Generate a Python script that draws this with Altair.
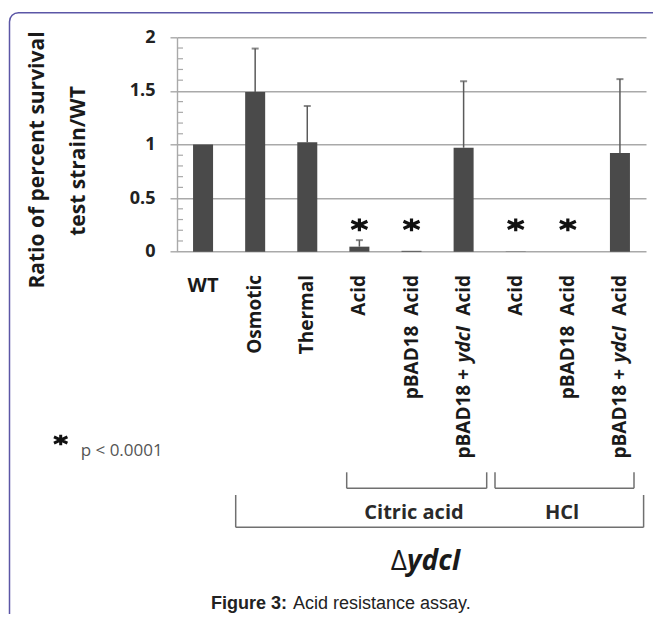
import altair as alt
import pandas as pd

# ---------------- data ----------------
categories = [
    "WT", "Osmotic", "Thermal",
    "Citric Acid", "Citric pBAD18 Acid", "Citric pBAD18 + ydcI Acid",
    "HCl Acid", "HCl pBAD18 Acid", "HCl pBAD18 + ydcI Acid",
]
ratios = [1.0, 1.49, 1.02, 0.047, 0.008, 0.97, 0.002, 0.0, 0.92]
error_tops = [None, 1.895, 1.36, 0.108, None, 1.59, None, None, 1.61]
significant = [False, False, False, True, True, False, True, True, False]
label_kind = ["horizontal", "rotated", "rotated", "rotated", "rotated",
              "composite", "rotated", "rotated", "composite"]
labels = ["WT", "Osmotic", "Thermal", "Acid", "pBAD18\u00a0\u00a0Acid", "",
          "Acid", "pBAD18\u00a0\u00a0Acid", ""]
star_level = [0.25] * 9
y_ticks = [0, 0.5, 1, 1.5, 2]
minor_ticks = [0.1, 0.2, 0.3, 0.4, 0.6, 0.7, 0.8, 0.9,
               1.1, 1.2, 1.3, 1.4, 1.6, 1.7, 1.8, 1.9]

# ---------------- layout (page pixels) ----------------
PLOT_LEFT, PLOT_TOP = 177, 37.3
PLOT_W, PLOT_H = 469, 214.4
TOTAL_W, TOTAL_H = 645, 606
PAGE_MARGIN = 8


def px(x):
    return x - PLOT_LEFT


def py(y):
    return y - PLOT_TOP


df = pd.DataFrame({
    "category": categories,
    "ratio": ratios,
    "err_top": error_tops,
    "significant": significant,
    "kind": label_kind,
    "label": labels,
    "star": star_level,
})

GRID = "#a9a9a9"
BAR = "#4a4a4a"
ERR = "#5a5a5a"
FONT = "Open Sans"

xscale = alt.Scale(domain=categories, paddingInner=0.616, paddingOuter=0.308)
yscale = alt.Scale(domain=[0, 2], nice=False, zero=True)

yaxis = alt.Axis(
    values=y_ticks, format=".1~f", title=None, grid=True,
    gridColor=GRID, gridWidth=1.4, domainColor=GRID, domainWidth=1.4,
    tickColor=GRID, tickWidth=1.4, tickSize=7, labelPadding=15,
    labelFont=FONT, labelFontWeight="bold", labelFontSize=18,
    labelColor="#222222",
)

base = alt.Chart(df).encode(
    x=alt.X("category:N", sort=categories, scale=xscale, axis=None)
)

bars = base.mark_bar(color=BAR).encode(
    y=alt.Y("ratio:Q", scale=yscale, axis=yaxis)
)

err_rules = base.transform_filter("isValid(datum.err_top)").mark_rule(
    color=ERR, strokeWidth=1.5
).encode(y=alt.Y("ratio:Q", title=None), y2="err_top:Q")

err_caps = base.transform_filter("isValid(datum.err_top)").mark_tick(
    color=ERR, size=7, thickness=2
).encode(y=alt.Y("err_top:Q", title=None))

STAR_PATH = "M0,-0.8L0,0.8M-1,-0.45L1,0.45M-1,0.45L1,-0.45"

stars = base.transform_filter("datum.significant").mark_point(
    shape=STAR_PATH, size=256, filled=False, strokeWidth=3.2,
    color="#111111", opacity=1
).encode(y=alt.Y("star:Q", title=None))

minor = alt.Chart(pd.DataFrame({"tick": minor_ticks})).mark_rule(
    color=GRID, strokeWidth=1.2
).encode(
    y=alt.Y("tick:Q", title=None),
    x=alt.value(0), x2=alt.value(6),
)

LABEL_TOP = py(275)
label_style = dict(font=FONT, fontWeight="bold", fontSize=19, color="#1a1a1a")

rot_labels = base.transform_filter("datum.kind == 'rotated'").mark_text(
    angle=270, align="right", baseline="middle", **label_style
).encode(text="label:N", y=alt.value(LABEL_TOP))

wt_label = base.transform_filter("datum.kind == 'horizontal'").mark_text(
    align="center", baseline="alphabetic", font=FONT, fontWeight="bold",
    fontSize=20, color="#1a1a1a"
).encode(text="label:N", y=alt.value(py(292)))

comp = base.transform_filter("datum.kind == 'composite'")
comp_a = comp.mark_text(angle=270, align="right", baseline="middle",
                        **label_style).encode(
    text=alt.value("\u00a0\u00a0Acid"), y=alt.value(LABEL_TOP))
comp_b = comp.mark_text(angle=270, align="right", baseline="middle",
                        fontStyle="italic", **label_style).encode(
    text=alt.value("ydcI"), y=alt.value(LABEL_TOP + 51))
comp_c = comp.mark_text(angle=270, align="right", baseline="middle",
                        **label_style).encode(
    text=alt.value("pBAD18 +"), y=alt.value(LABEL_TOP + 94))

one = alt.Data(values=[{"a": 1}])


def text_at(txt, x, y, **kw):
    return alt.Chart(one).mark_text(**kw).encode(
        text=alt.value(txt), x=alt.value(px(x)), y=alt.value(py(y)))


def rule(x1, y1, x2, y2, color="#707070", w=1.5):
    return alt.Chart(one).mark_rule(color=color, strokeWidth=w).encode(
        x=alt.value(px(x1)), x2=alt.value(px(x2)),
        y=alt.value(py(y1)), y2=alt.value(py(y2)))


def bracket(xl, xr, ytop, ybot):
    return [rule(xl, ytop, xl, ybot), rule(xr, ytop, xr, ybot),
            rule(xl, ybot, xr, ybot)]


frame = alt.Chart(one).mark_rect(
    cornerRadius=9, fillOpacity=0, stroke="#5b56a6", strokeWidth=1.5
).encode(
    x=alt.value(px(9.5)), x2=alt.value(px(1200)),
    y=alt.value(py(12.7)), y2=alt.value(py(1200)),
)

title1 = text_at("Ratio of percent survival", 43.5, 160, angle=270,
                 align="center", baseline="alphabetic", font=FONT,
                 fontWeight="bold", fontSize=21, color="#1a1a1a")
title2 = text_at("test strain/WT", 85, 161, angle=270,
                 align="center", baseline="alphabetic", font=FONT,
                 fontWeight="bold", fontSize=21, color="#1a1a1a")

legend_star = alt.Chart(one).mark_point(
    shape=STAR_PATH, size=180, filled=False, strokeWidth=3,
    color="#111111", opacity=1
).encode(x=alt.value(px(60.7)), y=alt.value(py(440)))
legend_text = text_at("p < 0.0001", 80.7, 451, align="left",
                      baseline="middle", font=FONT, fontSize=17,
                      color="#555555")

citric_txt = text_at("Citric acid", 414, 513, align="center",
                     baseline="middle", font=FONT, fontWeight="bold",
                     fontSize=20, color="#2a2a2a")
hcl_txt = text_at("HCl", 562, 513, align="center", baseline="middle",
                  font=FONT, fontWeight="bold", fontSize=20, color="#2a2a2a")
delta_txt = text_at("\u0394", 407, 562, align="right", baseline="middle",
                    font=FONT, fontSize=28, color="#1a1a1a")
ydci_txt = text_at("ydcI", 407, 562, align="left", baseline="middle",
                   font=FONT, fontWeight="bold", fontStyle="italic",
                   fontSize=28, color="#1a1a1a")

cap_bold = text_at("Figure 3:", 287, 609, align="right",
                   baseline="alphabetic", font="Liberation Sans",
                   fontWeight="bold", fontSize=18, color="#222222")
cap_norm = text_at("Acid resistance assay.", 293, 609, align="left",
                   baseline="alphabetic", font="Liberation Sans",
                   fontSize=18, color="#222222")

layers = [frame, bars, minor, err_rules, err_caps, stars,
          rot_labels, wt_label, comp_a, comp_b, comp_c,
          title1, title2, legend_star, legend_text,
          citric_txt, hcl_txt, delta_txt, ydci_txt, cap_bold, cap_norm]
layers += bracket(346.7, 486.7, 472.3, 488.3)
layers += bracket(495, 634, 472.3, 488.3)
layers += bracket(235.7, 643.6, 495, 527.3)

pad_left = PLOT_LEFT - PAGE_MARGIN
pad_top = PLOT_TOP - PAGE_MARGIN
chart = alt.layer(*layers).properties(
    width=PLOT_W, height=PLOT_H,
    autosize=alt.AutoSizeParams(type="none"),
    padding={"left": pad_left, "top": pad_top,
             "right": TOTAL_W - pad_left - PLOT_W,
             "bottom": TOTAL_H - pad_top - PLOT_H},
).configure_view(stroke="transparent")

chart.save("out.html", embed_options={"renderer": "svg", "actions": False})
